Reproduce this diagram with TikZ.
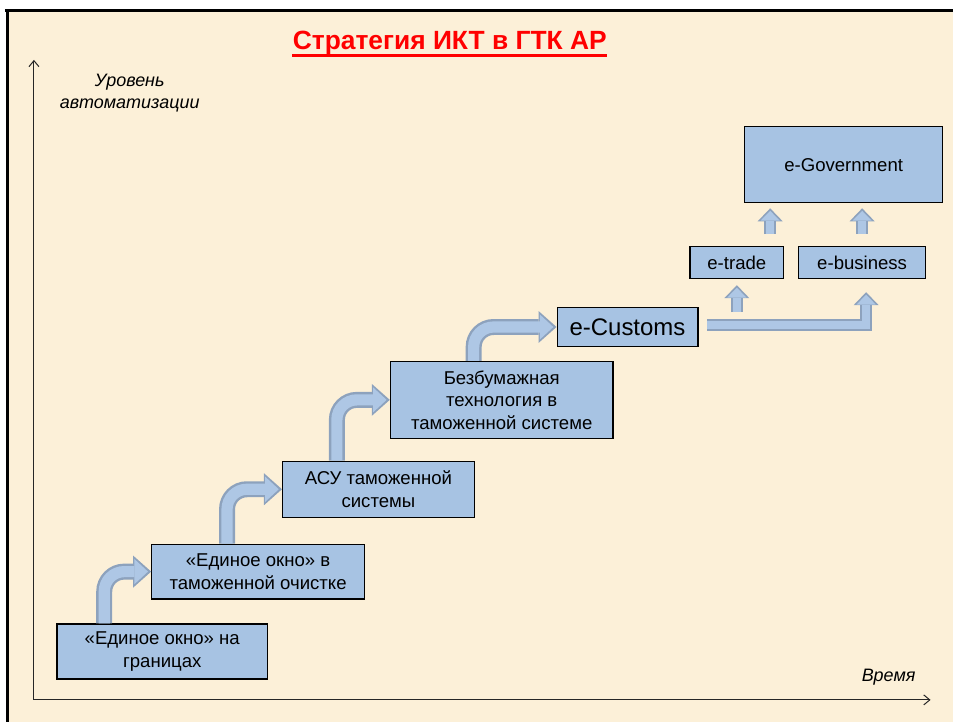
\documentclass[tikz,border=0pt]{standalone}
\usepackage{fontspec}
\setmainfont{Liberation Sans}
\usetikzlibrary{arrows.meta}
\definecolor{paper}{HTML}{FCF0D8}
\definecolor{boxblue}{HTML}{A7C3E3}
\definecolor{arrowblue}{HTML}{AEC7E5}
\definecolor{arrowedge}{HTML}{8DA2BD}
\definecolor{titlered}{HTML}{FF0000}

\begin{document}
\begin{tikzpicture}[x=0.5pt, y=-0.5pt,
    stage/.style={draw=black, line width=0.6pt, fill=boxblue, align=center,
      inner sep=0pt, font=\fontsize{9.3}{11.3}\selectfont},
    axis/.style={line width=0.5pt, draw=black!85, -{Straight Barb[length=3pt,width=5pt]}},
    axislabel/.style={font=\fontsize{9}{11}\selectfont\itshape, align=center},
    bent/.style={draw=arrowedge, line width=8pt, rounded corners=10pt,
      -{Triangle[length=9pt,width=16pt,line width=0pt]},
      postaction={draw=arrowblue, line width=5.6pt, shorten >=1.6pt,
        -{Triangle[length=6.8pt,width=12.6pt,line width=0pt]}}},
    lift/.style={draw=arrowedge, line width=6pt,
      -{Triangle[length=6.5pt,width=12.5pt,line width=0pt]},
      postaction={draw=arrowblue, line width=4pt, shorten >=1.3pt,
        -{Triangle[length=4.9pt,width=9.6pt,line width=0pt]}}}
    ]
    \fill[white] (0,0) rectangle (954,723);
    \fill[paper] (7,10) rectangle (954,723);
    \draw[line width=1.5pt] (5,10.5) -- (954,10.5);
    \draw[line width=1.5pt] (7.5,10) -- (7.5,723);

    \node[font=\fontsize{13.2}{15}\selectfont\bfseries, text=titlered, inner sep=0pt,
      anchor=base] (title) at (450.5,50) {Стратегия ИКТ в ГТК АР};
    \draw[titlered, line width=1.4pt] ([yshift=-2.6pt]title.base west) -- ([yshift=-2.6pt]title.base east);

    \coordinate (o) at (34,701);
    \coordinate (ytop) at (34,60);
    \coordinate (xend) at (932,701);
    \draw[axis] (o) -- (ytop);
    \draw[axis] (o) -- (xend);
    \node[axislabel] (ylabel) at (130,93) {Уровень\\автоматизации};
    \node[axislabel] (xlabel) at (890,678) {Время};

    \node[stage, minimum width=105.5pt, minimum height=27.5pt] (s1) at (162.5,652.5) {«Единое окно» на\\границах};
    \node[stage, minimum width=106.5pt, minimum height=27.5pt] (s2) at (258.5,572.5) {«Единое окно» в\\таможенной очистке};
    \node[stage, minimum width=96pt, minimum height=28pt] (s3) at (379,490) {АСУ таможенной\\системы};
    \node[stage, minimum width=111.5pt, minimum height=38.5pt] (s4) at (502.5,400.5) {Безбумажная\\технология в\\таможенной системе};
    \node[stage, minimum width=70.5pt, minimum height=19.5pt, font=\fontsize{12}{14}\selectfont] (ec) at (628.5,327.5) {e-Customs};
    \node[stage, minimum width=47pt, minimum height=16pt] (et) at (738,263) {e-trade};
    \node[stage, minimum width=63.5pt, minimum height=16pt] (eb) at (863.5,263) {e-business};
    \node[stage, minimum width=99pt, minimum height=38pt] (eg) at (845,165) {e-Government};

    \draw[bent] ([xshift=24pt]s1.north west) |- (s2.west);
    \draw[bent] ([xshift=38pt]s2.north west) |- (s3.west);
    \draw[bent] ([xshift=27.5pt]s3.north west) |- (s4.west);
    \draw[bent] ([xshift=42pt]s4.north west) |- (ec.west);

    \coordinate (g1) at ([xshift=13pt]eg.south west);
    \draw[lift] ([xshift=4.5pt,yshift=1pt]ec.east) -| ([xshift=2pt,yshift=-6.5pt]eb.south);
    \draw[lift] ([yshift=-16.5pt]et.south) -- ([yshift=-3pt]et.south);
    \draw[lift] ([yshift=6pt]g1 |- et.north) -- ([yshift=-2.5pt]g1);
    \draw[lift] ([yshift=6pt]eb.north) -- ([yshift=-2.5pt]eb.north |- eg.south);
\end{tikzpicture}
\end{document}
